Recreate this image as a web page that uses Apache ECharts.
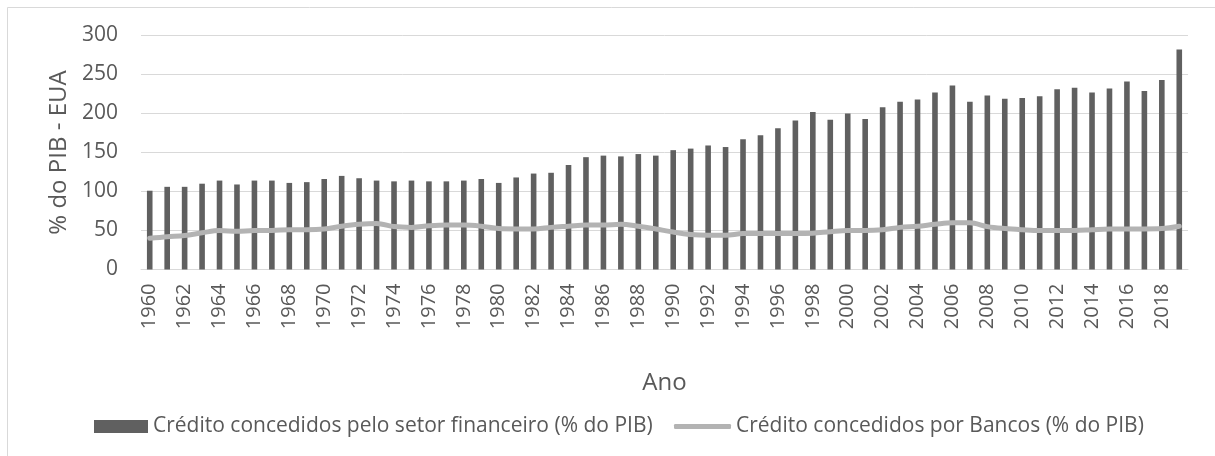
<!DOCTYPE html>
<html>
<head>
<meta charset="utf-8">
<script src="https://cdn.jsdelivr.net/npm/echarts@6/dist/echarts.min.js"></script>
<style>
html,body{margin:0;padding:0;background:#fff;}
#chart{width:1215px;height:456px;}
</style>
</head>
<body>
<div id="chart"></div>
<script>
const years = [];
for (let y = 1960; y <= 2019; y++) years.push(String(y));

const financeiro = [
  101, 106, 106, 110, 114, 109, 114, 114, 111, 112,
  116, 120, 117, 114, 113, 114, 113, 113, 114, 116,
  111, 118, 123, 124, 134, 144, 146, 145, 148, 146,
  153, 155, 159, 157, 167, 172, 181, 191, 202, 192,
  200, 193, 208, 215, 218, 227, 236, 215, 223, 219,
  220, 222, 231, 233, 227, 232, 241, 229, 243, 282
];

const bancos = [
  40, 42, 43.5, 47, 50, 49, 50, 50, 51, 51,
  52, 55.5, 58, 59, 55, 54, 56, 57, 57, 55.5,
  52.5, 52, 52, 54, 55.5, 57, 57, 58, 55.5, 52,
  48, 45, 44, 44, 46, 46, 46, 46, 46.5, 48.5,
  50, 50, 51, 54, 55.5, 58, 60, 60, 55, 52.5,
  51, 50, 50, 50, 51, 52, 52, 52, 52.5, 55.5
];

const yTicks = { min: 0, max: 300, interval: 50 };

const nameBar = 'Crédito concedidos pelo setor financeiro (% do PIB)';
const nameLine = 'Crédito concedidos por Bancos (% do PIB)';

const textColor = '#595959';
const fontFam = '"Open Sans", "Noto Sans", sans-serif';

const chart = echarts.init(document.getElementById('chart'), null, { renderer: 'canvas' });
chart.setOption({
  animation: false,
  backgroundColor: '#ffffff',
  textStyle: { fontFamily: fontFam, color: textColor },
  graphic: [{
    type: 'rect',
    shape: { x: 7.5, y: 7.5, width: 1220, height: 460 },
    style: { fill: 'none', stroke: '#d9d9d9', lineWidth: 1 },
    silent: true, z: -1
  }],
  grid: { left: 141, right: 27, top: 35.5, bottom: 186.5, containLabel: false },
  legend: [
    {
      left: 94,
      top: 416,
      padding: 0,
      itemWidth: 54,
      itemHeight: 13,
      textStyle: { fontFamily: fontFam, fontSize: 21, color: textColor },
      data: [{ name: nameBar, icon: 'rect' }]
    },
    {
      left: 674,
      top: 416,
      padding: 0,
      itemWidth: 57,
      itemHeight: 5,
      textStyle: { fontFamily: fontFam, fontSize: 21, color: textColor },
      data: [{ name: nameLine, icon: 'roundRect' }]
    }
  ],
  xAxis: {
    type: 'category',
    data: years,
    name: 'Ano',
    nameLocation: 'middle',
    nameGap: 102,
    nameTextStyle: { fontFamily: fontFam, fontSize: 24, color: textColor },
    axisLine: { show: true, lineStyle: { color: '#d9d9d9', width: 1 } },
    axisTick: { show: false },
    axisLabel: {
      interval: 1,
      rotate: 90,
      margin: 14,
      fontFamily: fontFam,
      fontSize: 20,
      color: textColor
    }
  },
  yAxis: {
    type: 'value',
    min: yTicks.min,
    max: yTicks.max,
    interval: yTicks.interval,
    name: '% do PIB - EUA',
    nameLocation: 'middle',
    nameGap: 65,
    nameTextStyle: { fontFamily: fontFam, fontSize: 24, color: textColor },
    axisLine: { show: false },
    axisTick: { show: false },
    axisLabel: { margin: 23, fontFamily: fontFam, fontSize: 21, color: textColor },
    splitLine: { show: true, lineStyle: { color: '#d9d9d9', width: 1 } }
  },
  series: [
    {
      name: nameBar,
      type: 'bar',
      data: financeiro,
      barWidth: 5.6,
      itemStyle: { color: '#606060' },
      z: 2
    },
    {
      name: nameLine,
      type: 'line',
      data: bancos,
      smooth: 0.35,
      symbol: 'none',
      showSymbol: false,
      lineStyle: { color: '#b3b3b3', width: 5, cap: 'round' },
      itemStyle: { color: '#b3b3b3' },
      z: 3
    }
  ]
});
</script>
</body>
</html>
